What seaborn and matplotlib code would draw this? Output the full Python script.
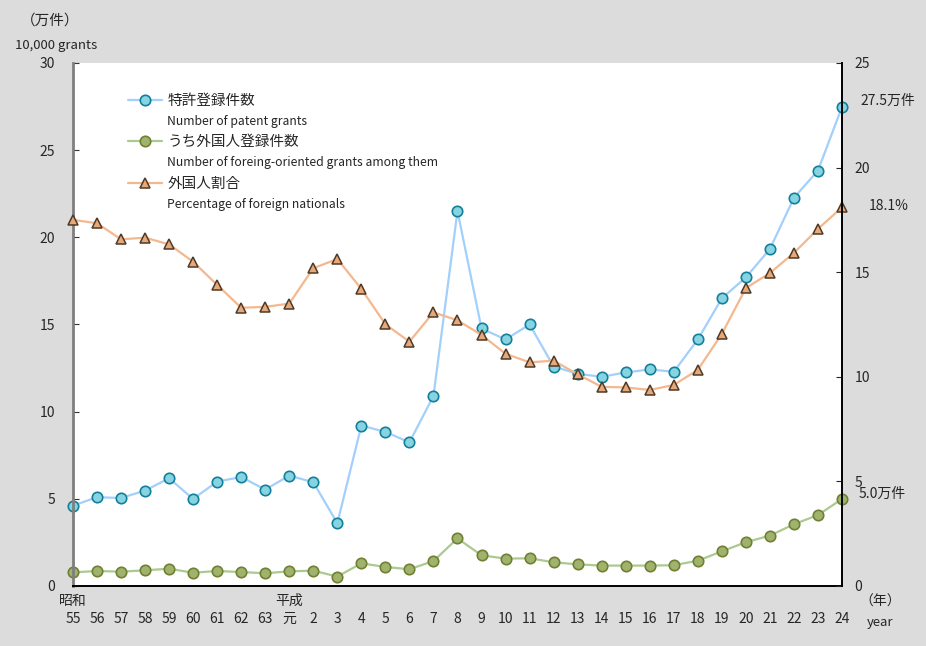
import numpy as np
import pandas as pd
import seaborn as sns
import matplotlib.pyplot as plt
from matplotlib.lines import Line2D

sns.set_style("white")
plt.rcParams["font.family"] = ["Noto Sans CJK JP", "DejaVu Sans"]

# Data.
years = ["55", "56", "57", "58", "59", "60", "61", "62", "63", "元",
         "2", "3", "4", "5", "6", "7", "8", "9", "10", "11", "12", "13",
         "14", "15", "16", "17", "18", "19", "20", "21", "22", "23", "24"]
eras = {"55": "昭和", "元": "平成"}
patent_grants = [4.61, 5.09, 5.05, 5.47, 6.18, 4.99, 5.99, 6.25, 5.53, 6.33,
                 5.95, 3.60, 9.20, 8.84, 8.24, 10.90, 21.51, 14.77, 14.14,
                 15.00, 12.59, 12.17, 12.00, 12.25, 12.42, 12.29, 14.14,
                 16.50, 17.70, 19.33, 22.27, 23.83, 27.48]
foreign_grants = [0.78, 0.86, 0.82, 0.90, 0.99, 0.76, 0.86, 0.80, 0.73, 0.84,
                  0.88, 0.54, 1.30, 1.09, 0.96, 1.43, 2.73, 1.76, 1.57, 1.59,
                  1.36, 1.24, 1.17, 1.17, 1.17, 1.19, 1.45, 1.99, 2.51, 2.89,
                  3.54, 4.07, 4.99]
foreign_pct = [17.50, 17.34, 16.57, 16.65, 16.33, 15.50, 14.39, 13.30, 13.34,
               13.50, 15.19, 15.63, 14.20, 12.51, 11.68, 13.08, 12.70, 12.00,
               11.10, 10.69, 10.77, 10.12, 9.52, 9.49, 9.37, 9.61, 10.33,
               12.05, 14.24, 14.96, 15.92, 17.07, 18.10]

df = pd.DataFrame({
    "idx": np.arange(len(years)),
    "grants": patent_grants,
    "foreign": foreign_grants,
    "pct": foreign_pct,
})

bg = "#dcdcdc"
fig = plt.figure(figsize=(9.26, 6.46), dpi=100, facecolor=bg)
ax = fig.add_axes([0.0788, 0.0929, 0.8305, 0.8096])
ax.set_facecolor("white")
ax2 = ax.twinx()

blue = dict(color="#a3d0fb", marker="o", markersize=7.5,
            markerfacecolor="#86d3e2", markeredgecolor="#13809b",
            markeredgewidth=1.2, linewidth=1.6)
green = dict(color="#acc98f", marker="o", markersize=7.5,
             markerfacecolor="#a0b36d", markeredgecolor="#717f33",
             markeredgewidth=1.2, linewidth=1.6)
orange = dict(color="#f4b88f", marker="^", markersize=7.5,
              markerfacecolor="#e7a87a", markeredgecolor="#4e3a27",
              markeredgewidth=1.1, linewidth=1.6)

sns.lineplot(data=df, x="idx", y="grants", ax=ax, clip_on=False, **blue)
sns.lineplot(data=df, x="idx", y="foreign", ax=ax, clip_on=False, **green)
sns.lineplot(data=df, x="idx", y="pct", ax=ax2, clip_on=False, **orange)

# Axes.
ax.set_xlim(0, len(years) - 1)
ax.set_ylim(0, 30)
ax2.set_ylim(0, 25)
ax.set_yticks(range(0, 31, 5))
ax2.set_yticks(range(0, 26, 5))
ax.set_xticks(df["idx"])
ax.set_xticklabels([eras.get(y, "") + "\n" + y for y in years],
                   linespacing=1.4)
for a in (ax, ax2):
    a.set_xlabel("")
    a.set_ylabel("")
    a.spines["top"].set_visible(False)
ax.tick_params(axis="y", direction="in", length=4, pad=13, labelsize=10,
               color="#333333")
ax.tick_params(axis="x", direction="in", length=4, pad=5.5, labelsize=10)
ax2.tick_params(axis="y", direction="in", length=4, pad=9, labelsize=10)
ax.spines["left"].set_color("#7f7f7f")
ax.spines["left"].set_linewidth(2)
ax.spines["right"].set_visible(False)
ax.spines["bottom"].set_color("black")
ax.spines["bottom"].set_linewidth(1.4)
ax2.spines["left"].set_visible(False)
ax2.spines["bottom"].set_visible(False)
ax2.spines["right"].set_color("black")
ax2.spines["right"].set_linewidth(1.4)

# Legend with Japanese and English lines.
blank = Line2D([], [], linestyle="none")
handles = [Line2D([], [], **blue), blank, Line2D([], [], **green), blank,
           Line2D([], [], **orange), blank]
labels = ["特許登録件数", "Number of patent grants",
          "うち外国人登録件数", "Number of foreing-oriented grants among them",
          "外国人割合", "Percentage of foreign nationals"]
leg = ax2.legend(handles, labels, loc="upper left",
                 bbox_to_anchor=(0.055, 0.965), frameon=False,
                 handlelength=2.5, handletextpad=0.35, labelspacing=0.52,
                 fontsize=10)
for i, t in enumerate(leg.get_texts()):
    t.set_fontsize(10.5 if i % 2 == 0 else 8.8)

# End-point labels.
last = len(years) - 1
ax.annotate("27.5万件", xy=(last, patent_grants[-1]), xytext=(13, 4),
            textcoords="offset points", fontsize=10, va="center",
            annotation_clip=False)
ax.annotate("5.0万件", xy=(last, foreign_grants[-1]), xytext=(12, 4),
            textcoords="offset points", fontsize=10, va="center",
            annotation_clip=False)
ax2.annotate("18.1%", xy=(last, foreign_pct[-1]), xytext=(19, 1),
             textcoords="offset points", fontsize=10, va="center",
             annotation_clip=False)

# Unit labels.
fig.text(0.054, 0.968, "（万件）", fontsize=10.5, ha="center", va="center")
fig.text(0.061, 0.930, "10,000 grants", fontsize=9.5, ha="center",
         va="center")
fig.text(0.950, 0.069, "（年）", fontsize=10, ha="center", va="center")
fig.text(0.950, 0.036, "year", fontsize=9.5, ha="center", va="center")

fig.savefig("out.png", dpi=100, facecolor=bg)
